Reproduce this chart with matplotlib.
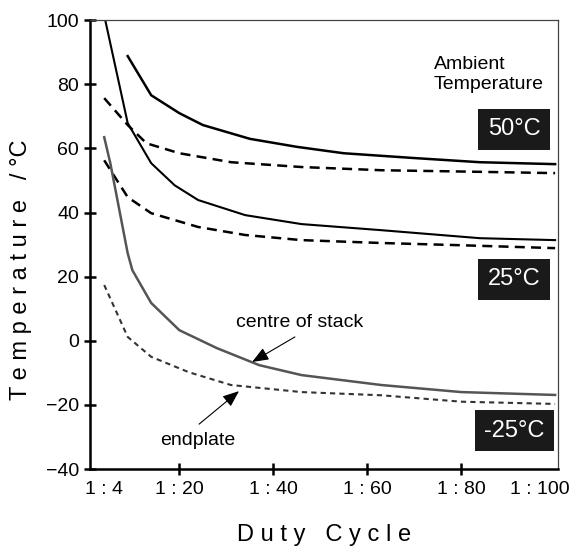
"""Stack temperature vs duty cycle at three ambient temperatures."""

import matplotlib.pyplot as plt
from matplotlib.transforms import ScaledTranslation

plt.rcParams["font.family"] = ["Liberation Sans", "DejaVu Sans"]

# duty cycle 1:N  -> N on the x axis
x_50_centre = [9, 14, 20, 25, 35, 45, 55, 70, 84, 100]
t_50_centre = [88.8, 76.6, 71.0, 67.3, 63.0, 60.5, 58.5, 57.0, 55.7, 55.1]
x_50_end = [4, 9, 13, 20, 31, 46, 63, 80, 100]
t_50_end = [75.7, 67.3, 61.6, 58.5, 55.7, 54.2, 53.2, 52.8, 52.3]

x_25_centre = [4, 9, 14, 19, 24, 34, 46, 63, 84, 100]
t_25_centre = [101.5, 67.9, 55.4, 48.5, 43.9, 39.2, 36.4, 34.5, 32.0, 31.4]
x_25_end = [4, 9, 14, 24, 34, 46, 63, 80, 100]
t_25_end = [56.3, 44.8, 39.8, 35.5, 33.0, 31.4, 30.5, 29.8, 28.9]

x_m25_centre = [4, 5.3, 9, 10, 14, 20, 28, 37, 46, 63, 80, 100]
t_m25_centre = [63.5, 55.4, 27.3, 22.0, 11.8, 3.3, -2.3, -7.6, -10.7, -13.8, -16.0, -16.9]
x_m25_end = [4, 9, 14, 22, 31, 46, 63, 80, 100]
t_m25_end = [17.4, 1.2, -5.0, -9.8, -13.8, -16.0, -17.0, -19.0, -19.7]

x_ticks = [4, 20, 40, 60, 80, 100]
x_tick_labels = ["1 : 4", "1 : 20", "1 : 40", "1 : 60", "1 : 80", "1 : 100"]
y_ticks = [-40, -20, 0, 20, 40, 60, 80, 100]

ambient_labels = ["50°C", "25°C", "-25°C"]

fig = plt.figure(figsize=(5.74, 5.46), dpi=100)
ax = fig.add_axes([0.157, 0.141, 0.815, 0.822])

ax.plot(x_50_centre, t_50_centre, color="black", lw=1.8)
ax.plot(x_50_end, t_50_end, color="black", lw=1.8, dashes=(4, 2.5))
ax.plot(x_25_centre, t_25_centre, color="black", lw=1.5)
ax.plot(x_25_end, t_25_end, color="black", lw=1.8, dashes=(4, 2.5))
ax.plot(x_m25_centre, t_m25_centre, color="#555555", lw=1.8)
ax.plot(x_m25_end, t_m25_end, color="#333333", lw=1.5, dashes=(2.5, 2))

ax.set_xlim(1, 100.6)
ax.set_ylim(-40, 100)
ax.set_xticks(x_ticks)
ax.set_xticklabels(x_tick_labels)
ax.set_yticks(y_ticks)
ax.tick_params(axis="both", direction="inout", length=9, width=1.8,
               labelsize=14, colors="black")
ax.tick_params(axis="x", pad=4)
xt = ax.xaxis.get_major_ticks()
xt[0].tick1line.set_visible(False)
xt[-1].tick1line.set_visible(False)
# the last label sits left of its tick so it stays on the page
last = xt[-1].label1
last.set_transform(last.get_transform()
                   + ScaledTranslation(-0.15, 0, fig.dpi_scale_trans))

for side in ["left", "bottom"]:
    ax.spines[side].set_linewidth(1.8)
for side in ["top", "right"]:
    ax.spines[side].set_linewidth(0.9)
    ax.spines[side].set_color("#444444")

ax.set_xlabel("D u t y   C y c l e", fontsize=17, labelpad=19)
ax.set_ylabel("T e m p e r a t u r e   / °C", fontsize=17)
ax.yaxis.set_label_coords(-0.125, 0.443)

ax.text(74.2, 83, "Ambient\nTemperature", fontsize=14, ha="left",
        va="center", linespacing=1.25)
for label, y in zip(ambient_labels, [66, 19.2, -28]):
    ax.text(91.3, y, label, fontsize=17, color="white", ha="center",
            va="center",
            bbox={"boxstyle": "square,pad=0.4", "facecolor": "#1a1a1a",
                  "edgecolor": "none"})

arrow = {"arrowstyle": "-|>,head_length=1.0,head_width=0.4",
         "color": "black", "lw": 0.8, "shrinkA": 0, "shrinkB": 0}
ax.annotate("", xy=(35.5, -6.6), xytext=(44.6, 1.2), arrowprops=arrow)
ax.text(45.7, 5.8, "centre of stack", fontsize=14, ha="center", va="center")
ax.annotate("", xy=(32.7, -15.7), xytext=(24.2, -26), arrowprops=arrow)
ax.text(24, -31, "endplate", fontsize=14, ha="center", va="center")

fig.savefig("out.png", dpi=100)
